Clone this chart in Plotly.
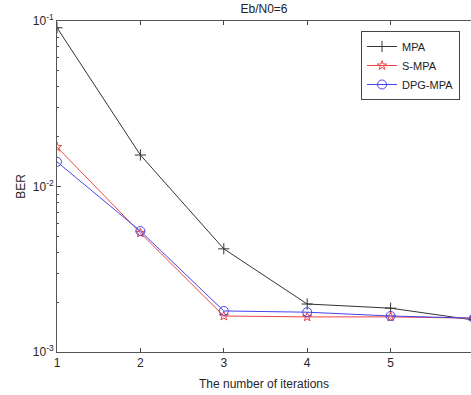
import plotly.graph_objects as go

iterations = [1, 2, 3, 4, 5, 6]
ber_mpa = [0.091, 0.0155, 0.0042, 0.00195, 0.00184, 0.00156]
ber_smpa = [0.0173, 0.00524, 0.00165, 0.00163, 0.00163, 0.0016]
ber_dpg = [0.0141, 0.00538, 0.00177, 0.00174, 0.00165, 0.0016]
ytick_vals = [1e-3, 1e-2, 1e-1]
ytick_text = ["10<sup>-3</sup>", "10<sup>-2</sup>", "10<sup>-1</sup>"]
yminor_vals = [m * 10 ** e for e in (-3, -2) for m in range(2, 10)]
xtick_vals = [1, 2, 3, 4, 5]

font_family = "Liberation Sans, Arial, sans-serif"
axis_col = "#262626"

fig = go.Figure()
fig.add_trace(go.Scatter(x=iterations, y=ber_mpa, name="MPA", mode="lines+markers",
                         line=dict(color="#333333", width=1),
                         marker=dict(symbol="cross-thin-open", size=8, line=dict(color="#333333", width=1))))
fig.add_trace(go.Scatter(x=iterations, y=ber_smpa, name="S-MPA", mode="lines+markers",
                         line=dict(color="#ee4444", width=1),
                         marker=dict(symbol="star-open", size=7, line=dict(color="#ee4444", width=1))))
fig.add_trace(go.Scatter(x=iterations, y=ber_dpg, name="DPG-MPA", mode="lines+markers",
                         line=dict(color="#4444ee", width=1),
                         marker=dict(symbol="circle-open", size=9, line=dict(color="#4444ee", width=1))))

fig.update_layout(
    width=471, height=395,
    margin=dict(l=57, r=0, t=21, b=43, autoexpand=False),
    paper_bgcolor="white", plot_bgcolor="white",
    font=dict(family=font_family, size=12, color=axis_col),
    title=dict(text="Eb/N0=6", x=(57 + 471) / 2 / 471, xanchor="center", y=1 - 9 / 395, yanchor="middle",
               font=dict(size=12, color="#222222")),
    showlegend=True,
    legend=dict(x=(361 - 57) / 414, y=(352 - 31) / 331, xanchor="left", yanchor="top",
                bgcolor="white", bordercolor="#444444", borderwidth=1,
                font=dict(size=11, color="#222222"), tracegroupgap=0, itemwidth=30),
    xaxis=dict(range=[1, 1 + (471 - 57) / 83.4], tickvals=xtick_vals, ticks="inside", ticklen=4,
               showline=True, linecolor="#555555", linewidth=1, mirror="ticks", automargin=False,
               showgrid=False, zeroline=False, tickfont=dict(size=12),
               title=dict(text="The number of iterations", font=dict(size=12), standoff=10)),
    yaxis=dict(type="log", range=[-3, -1], tickvals=ytick_vals, ticktext=ytick_text,
               ticks="inside", ticklen=4, showline=True, linecolor="#555555", linewidth=1,
               mirror=False, showgrid=False, zeroline=False, tickfont=dict(size=12), automargin=False,
               minor=dict(tickmode="array", tickvals=yminor_vals, ticks="inside", ticklen=2,
                          tickcolor="#555555", showgrid=False),
               title=dict(text="BER", font=dict(size=12), standoff=4)),
)

fig.add_annotation(text="6", xref="paper", yref="paper", x=(474 - 57) / 414, y=-0.017,
                   xanchor="center", yanchor="top", showarrow=False, font=dict(size=12, color=axis_col))

fig.write_html("out.html", config={"displayModeBar": False},
               post_script="document.body.style.margin='0';document.body.style.overflow='hidden';")
